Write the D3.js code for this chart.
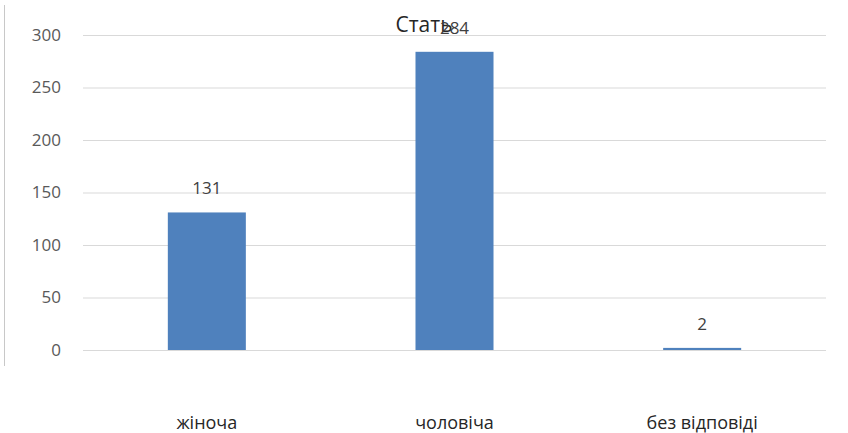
<!DOCTYPE html>
<html>
<head>
<meta charset="utf-8">
<script src="https://cdn.jsdelivr.net/npm/d3@7"></script>
<style>
  html, body { margin: 0; padding: 0; background: #fff; }
  svg { display: block; }
</style>
</head>
<body>
<svg id="chart" width="848" height="433"></svg>
<script>
const title = "Стать";
const categories = ["жіноча", "чоловіча", "без відповіді"];
const values = [131, 284, 2];
const yTicks = [0, 50, 100, 150, 200, 250, 300];

const W = 848, H = 433;
const margin = { left: 83, right: 22, top: 35, bottom: 83 };
const svg = d3.select("#chart");

const x = d3.scaleBand()
  .domain(categories)
  .range([margin.left, W - margin.right])
  .paddingInner(0.685)
  .paddingOuter(0.3425);

const y = d3.scaleLinear()
  .domain([0, 300])
  .range([H - margin.bottom, margin.top]);

// left border line
svg.append("line")
  .attr("x1", 4.5).attr("x2", 4.5)
  .attr("y1", 5).attr("y2", 366)
  .attr("stroke", "#c8c8c8").attr("stroke-width", 1);

// gridlines
svg.append("g")
  .attr("transform", `translate(${margin.left},0)`)
  .call(d3.axisLeft(y).tickValues(yTicks).tickSize(-(W - margin.left - margin.right)).tickFormat(""))
  .call(g => g.select(".domain").remove())
  .call(g => g.selectAll(".tick line").attr("stroke", "#d9d9d9").attr("stroke-width", 1));

// tick labels
svg.append("g")
  .attr("transform", `translate(61,0)`)
  .call(d3.axisLeft(y).tickValues(yTicks).tickSize(0).tickPadding(0))
  .call(g => g.select(".domain").remove())
  .call(g => g.selectAll(".tick text")
    .attr("font-family", "'Open Sans', sans-serif")
    .attr("font-size", 17)
    .attr("fill", "#595959"));

// bars
svg.append("g").selectAll("rect")
  .data(values)
  .join("rect")
  .attr("x", (d, i) => x(categories[i]))
  .attr("width", x.bandwidth())
  .attr("y", d => y(d))
  .attr("height", d => y(0) - y(d))
  .attr("fill", "#4F81BD");

// category labels
svg.append("g")
  .attr("transform", `translate(0,429)`)
  .call(d3.axisBottom(x).tickSize(0).tickPadding(0))
  .call(g => g.select(".domain").remove())
  .call(g => g.selectAll(".tick text")
    .attr("dy", 0)
    .attr("font-family", "'Open Sans', sans-serif")
    .attr("font-size", 18)
    .attr("fill", "#262626"));

// title
svg.append("text")
  .attr("x", 424).attr("y", 32)
  .attr("text-anchor", "middle")
  .attr("font-family", "'Open Sans', sans-serif")
  .attr("font-size", 21)
  .attr("fill", "#262626")
  .text(title);

// value labels
svg.append("g").selectAll("text")
  .data(values)
  .join("text")
  .attr("x", (d, i) => x(categories[i]) + x.bandwidth() / 2)
  .attr("y", d => y(d) - 18)
  .attr("text-anchor", "middle")
  .attr("font-family", "'Open Sans', sans-serif")
  .attr("font-size", 17)
  .attr("fill", "#404040")
  .text(d => d);
</script>
</body>
</html>
